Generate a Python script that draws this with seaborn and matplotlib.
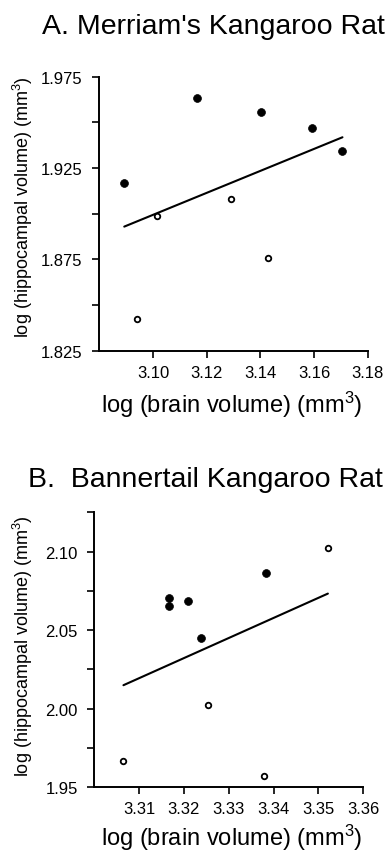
import pandas as pd
import numpy as np
import matplotlib
matplotlib.use('Agg')
import matplotlib.pyplot as plt
import seaborn as sns

# panel A: Merriam's kangaroo rat
a_filled_x = [3.0893, 3.1163, 3.1404, 3.1593, 3.1706]
a_filled_y = [1.9166, 1.9633, 1.9555, 1.9469, 1.9341]
a_open_x = [3.1014, 3.1290, 3.1428, 3.0942]
a_open_y = [1.8985, 1.9080, 1.8755, 1.8423]
a_xticks = [3.10, 3.12, 3.14, 3.16, 3.18]
a_xlabels = ['3.10', '3.12', '3.14', '3.16', '3.18']
a_yticks = [1.825, 1.875, 1.925, 1.975]
a_ylabels = ['1.825', '1.875', '1.925', '1.975']
a_yminor = [1.85, 1.90, 1.95]

# panel B: bannertail kangaroo rat
b_filled_x = [3.3167, 3.3167, 3.3209, 3.3237, 3.3384]
b_filled_y = [2.0702, 2.0653, 2.0687, 2.0451, 2.0862]
b_open_x = [3.3521, 3.3254, 3.3065, 3.3379]
b_open_y = [2.1026, 2.0021, 1.9670, 1.9574]
b_xticks = [3.31, 3.32, 3.33, 3.34, 3.35, 3.36]
b_xlabels = ['3.31', '3.32', '3.33', '3.34', '3.35', '3.36']
b_yticks = [1.95, 2.00, 2.05, 2.10]
b_ylabels = ['1.95', '2.00', '2.05', '2.10']
b_yminor = [1.975, 2.025, 2.075, 2.125]

sns.set_style('ticks')
plt.rcParams['font.family'] = ['Liberation Sans', 'DejaVu Sans']
plt.rcParams['mathtext.fontset'] = 'custom'
plt.rcParams['mathtext.rm'] = 'Liberation Sans'
plt.rcParams['mathtext.it'] = 'Liberation Sans'
plt.rcParams['text.color'] = 'black'
plt.rcParams['axes.labelcolor'] = 'black'
plt.rcParams['xtick.color'] = 'black'
plt.rcParams['ytick.color'] = 'black'

fig = plt.figure(figsize=(3.88, 8.62), dpi=100)
W, H = 388, 862


def make_df(fx, fy, ox, oy):
    return pd.DataFrame({
        'brain': fx + ox,
        'hippo': fy + oy,
        'kind': ['filled'] * len(fx) + ['open'] * len(ox),
    })


def panel(rect, df, xlim, ylim, xt, xl, yt, yl, ymin, xlab_pos, ylab_pos):
    ax = fig.add_axes(rect)
    sns.regplot(data=df, x='brain', y='hippo', scatter=False, ci=None,
                color='black', line_kws={'linewidth': 1.5}, ax=ax)
    sns.scatterplot(data=df[df.kind == 'filled'], x='brain', y='hippo',
                    color='black', s=32, edgecolor='black', linewidth=0.5,
                    ax=ax, zorder=3)
    sns.scatterplot(data=df[df.kind == 'open'], x='brain', y='hippo',
                    facecolor='white', edgecolor='black', s=16, linewidth=1.3,
                    ax=ax, zorder=3)
    ax.set_xlim(xlim)
    ax.set_ylim(ylim)
    ax.set_xticks(xt)
    ax.set_xticklabels(xl, fontsize=12)
    ax.set_yticks(yt)
    ax.set_yticklabels(yl, fontsize=12)
    ax.set_yticks(ymin, minor=True)
    ax.tick_params(axis='both', which='both', length=5, width=1.2,
                   color='black', labelcolor='black')
    ax.tick_params(axis='y', pad=7)
    ax.tick_params(axis='x', pad=5)
    sns.despine(ax=ax)
    for s in ['left', 'bottom']:
        ax.spines[s].set_linewidth(1.4)
        ax.spines[s].set_color('black')
    ax.set_xlabel('log (brain volume) (mm$^3$)', fontsize=17)
    ax.set_ylabel('log (hippocampal volume) (mm$^3$)', fontsize=13)
    ax.xaxis.set_label_coords(*xlab_pos)
    ax.yaxis.set_label_coords(*ylab_pos)
    return ax


dfa = make_df(a_filled_x, a_filled_y, a_open_x, a_open_y)
dfb = make_df(b_filled_x, b_filled_y, b_open_x, b_open_y)

panel([99.3 / W, 1 - 351.7 / H, 268.4 / W, 274 / H], dfa,
      (3.08, 3.18), (1.825, 1.975), a_xticks, a_xlabels,
      a_yticks, a_ylabels, a_yminor, (0.493, -0.14), (-0.24, 0.529))
panel([94.3 / W, 1 - 788.3 / H, 269 / W, 275 / H], dfb,
      (3.30, 3.36), (1.95, 2.125), b_xticks, b_xlabels,
      b_yticks, b_ylabels, b_yminor, (0.511, -0.126), (-0.22, 0.518))

fig.text(41.7 / W, 1 - 34 / H, "A. Merriam's Kangaroo Rat", fontsize=20.5,
         ha='left', va='baseline')
fig.text(28.3 / W, 1 - 486.7 / H, "B.  Bannertail Kangaroo Rat", fontsize=20.5,
         ha='left', va='baseline')

fig.savefig('out.png', dpi=100)
